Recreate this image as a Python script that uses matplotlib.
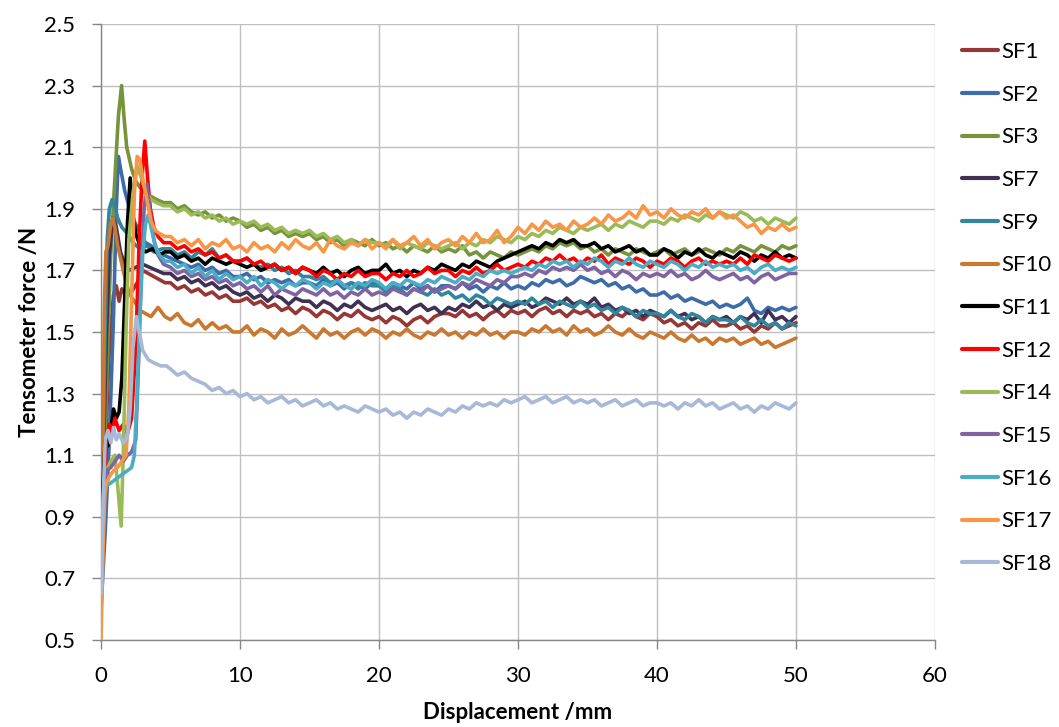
import numpy as np
import matplotlib
matplotlib.use("Agg")
import matplotlib.pyplot as plt

plt.rcParams['font.family'] = ['Lato', 'DejaVu Sans']

# ---------------- data ----------------
series_names = ["SF1", "SF2", "SF3", "SF7", "SF9", "SF10", "SF11", "SF12",
                "SF14", "SF15", "SF16", "SF17", "SF18"]
series_colors = ["#953735", "#3D6CA8", "#77933C", "#403152", "#31859C", "#C9782F",
                 "#000000", "#FF0000", "#9BBB59", "#8064A2", "#4BACC6", "#F79646",
                 "#A7B9D7"]

# common displacement grid after the initial peak (mm)
body_x = list(np.arange(5.0, 50.0001, 0.5))

# initial part (0-5 mm) of each curve
sf1_init_x = [0, 0.3, 0.6, 0.9, 1.1, 1.3, 1.5, 1.8, 2.2, 2.6, 3.0, 3.4, 3.8, 4.2, 4.6]
sf1_init_y = [0.75, 1.10, 1.45, 1.62, 1.65, 1.60, 1.64, 1.62, 1.63, 1.66, 1.70, 1.69, 1.68, 1.67, 1.66]
sf2_init_x = [0, 0.3, 0.6, 0.9, 1.1, 1.25, 1.45, 1.7, 2.0, 2.4, 2.8, 3.2, 3.6, 4.0, 4.5]
sf2_init_y = [0.60, 0.85, 1.15, 1.55, 1.90, 2.07, 2.02, 1.96, 1.91, 1.86, 1.82, 1.79, 1.78, 1.76, 1.75]
sf3_init_x = [0, 0.2, 0.45, 0.7, 1.0, 1.25, 1.48, 1.65, 1.85, 2.0, 2.2, 2.5, 2.8, 3.2, 3.6, 4.0, 4.5]
sf3_init_y = [0.70, 1.00, 1.40, 1.75, 2.00, 2.20, 2.30, 2.20, 2.10, 2.07, 2.03, 1.99, 1.97, 1.95, 1.94, 1.93, 1.92]
sf7_init_x = [0, 0.2, 0.4, 0.6, 0.85, 1.1, 1.4, 1.7, 2.0, 2.5, 3.0, 3.5, 4.0, 4.5]
sf7_init_y = [0.85, 1.15, 1.50, 1.75, 1.87, 1.84, 1.76, 1.72, 1.70, 1.71, 1.72, 1.71, 1.70, 1.69]
sf9_init_x = [0, 0.15, 0.3, 0.45, 0.6, 0.8, 1.0, 1.2, 1.5, 1.9, 2.3, 2.8, 3.3, 3.8, 4.4]
sf9_init_y = [0.80, 1.10, 1.50, 1.80, 1.90, 1.93, 1.91, 1.87, 1.84, 1.82, 1.79, 1.77, 1.78, 1.76, 1.77]
sf10_init_x = [0, 0.12, 0.25, 0.35, 0.5, 0.7, 0.85, 1.0, 1.2, 1.5, 1.8, 2.1, 2.4, 2.8, 3.2, 3.6, 4.1, 4.6]
sf10_init_y = [0.55, 1.10, 1.60, 1.76, 1.78, 1.85, 1.87, 1.84, 1.78, 1.72, 1.66, 1.62, 1.60, 1.57, 1.56, 1.55, 1.58, 1.55]
sf11_init_x = [0, 0.15, 0.3, 0.5, 0.7, 0.9, 1.1, 1.3, 1.5, 1.7, 1.9, 2.1, 2.3, 2.5, 2.8, 3.2, 3.7, 4.2, 4.6]
sf11_init_y = [0.86, 1.00, 1.15, 1.13, 1.18, 1.25, 1.22, 1.24, 1.35, 1.60, 1.85, 2.00, 1.88, 1.82, 1.78, 1.76, 1.77, 1.75, 1.76]
sf12_init_x = [0, 0.2, 0.4, 0.6, 0.8, 1.0, 1.3, 1.6, 1.9, 2.2, 2.5, 2.75, 2.95, 3.15, 3.35, 3.55, 3.8, 4.1, 4.5]
sf12_init_y = [0.60, 1.00, 1.15, 1.20, 1.17, 1.22, 1.18, 1.20, 1.17, 1.22, 1.45, 1.80, 2.00, 2.12, 2.00, 1.90, 1.84, 1.81, 1.79]
sf14_init_x = [0, 0.2, 0.4, 0.7, 1.0, 1.2, 1.45, 1.6, 1.8, 2.0, 2.3, 2.6, 2.9, 3.2, 3.6, 4.0, 4.5]
sf14_init_y = [0.75, 1.00, 1.05, 1.08, 1.10, 1.00, 0.87, 1.10, 1.50, 1.80, 1.95, 2.04, 2.00, 1.96, 1.93, 1.92, 1.91]
sf15_init_x = [0, 0.2, 0.4, 0.7, 1.0, 1.3, 1.6, 1.9, 2.2, 2.5, 2.7, 2.9, 3.1, 3.3, 3.5, 3.8, 4.1, 4.5]
sf15_init_y = [0.70, 1.00, 1.05, 1.06, 1.08, 1.10, 1.08, 1.10, 1.11, 1.15, 1.40, 1.70, 1.90, 1.98, 1.90, 1.80, 1.75, 1.72]
sf16_init_x = [0, 0.2, 0.4, 0.7, 1.0, 1.3, 1.6, 1.9, 2.2, 2.4, 2.6, 2.8, 3.0, 3.2, 3.4, 3.6, 3.9, 4.2, 4.6]
sf16_init_y = [0.75, 0.95, 1.00, 1.01, 1.02, 1.03, 1.04, 1.05, 1.06, 1.10, 1.30, 1.55, 1.75, 1.85, 1.88, 1.84, 1.78, 1.75, 1.73]
sf17_init_x = [0, 0.15, 0.3, 0.6, 0.9, 1.2, 1.5, 1.8, 2.0, 2.2, 2.4, 2.6, 2.8, 3.0, 3.3, 3.6, 3.9, 4.2, 4.6]
sf17_init_y = [0.50, 0.80, 1.00, 1.03, 1.05, 1.06, 1.08, 1.10, 1.25, 1.60, 1.95, 2.07, 2.06, 2.00, 1.93, 1.86, 1.83, 1.82, 1.81]
sf18_init_x = [0, 0.15, 0.3, 0.5, 0.7, 0.9, 1.1, 1.3, 1.6, 1.9, 2.1, 2.3, 2.55, 2.75, 3.0, 3.4, 3.8, 4.3, 4.7]
sf18_init_y = [0.65, 0.95, 1.15, 1.18, 1.14, 1.19, 1.15, 1.17, 1.14, 1.16, 1.25, 1.45, 1.55, 1.50, 1.44, 1.41, 1.40, 1.39, 1.39]

# values from 5 mm to 50 mm every 0.5 mm
sf1_body = [1.66, 1.64, 1.65, 1.63, 1.64, 1.62, 1.63, 1.61, 1.62, 1.60,
            1.60, 1.61, 1.59, 1.60, 1.58, 1.59, 1.57, 1.58, 1.56, 1.58,
            1.57, 1.55, 1.57, 1.56, 1.54, 1.56, 1.55, 1.57, 1.55, 1.54,
            1.55, 1.53, 1.55, 1.54, 1.52, 1.54, 1.55, 1.53, 1.55, 1.56,
            1.56, 1.55, 1.57, 1.55, 1.56, 1.54, 1.56, 1.57, 1.55, 1.57,
            1.56, 1.57, 1.55, 1.57, 1.58, 1.56, 1.57, 1.55, 1.57, 1.56,
            1.57, 1.55, 1.56, 1.54, 1.56, 1.55, 1.57, 1.55, 1.54, 1.56,
            1.55, 1.53, 1.54, 1.52, 1.53, 1.51, 1.53, 1.52, 1.54, 1.52,
            1.52, 1.53, 1.51, 1.52, 1.50, 1.52, 1.51, 1.53, 1.51, 1.52,
            1.53]
sf2_body = [1.74, 1.73, 1.72, 1.71, 1.72, 1.70, 1.71, 1.69, 1.70, 1.68,
            1.68, 1.69, 1.67, 1.68, 1.66, 1.67, 1.66, 1.67, 1.65, 1.66,
            1.66, 1.65, 1.67, 1.65, 1.66, 1.64, 1.66, 1.65, 1.64, 1.66,
            1.65, 1.64, 1.66, 1.65, 1.64, 1.66, 1.64, 1.65, 1.63, 1.65,
            1.65, 1.64, 1.66, 1.64, 1.65, 1.63, 1.65, 1.64, 1.66, 1.64,
            1.65, 1.64, 1.66, 1.65, 1.67, 1.66, 1.67, 1.65, 1.66, 1.68,
            1.67, 1.66, 1.67, 1.65, 1.66, 1.64, 1.65, 1.63, 1.64, 1.62,
            1.62, 1.63, 1.61, 1.62, 1.60, 1.61, 1.60, 1.59, 1.60, 1.58,
            1.59, 1.58, 1.59, 1.61, 1.57, 1.56, 1.58, 1.57, 1.58, 1.57,
            1.58]
sf3_body = [1.92, 1.90, 1.91, 1.89, 1.88, 1.89, 1.87, 1.88, 1.86, 1.87,
            1.86, 1.84, 1.85, 1.83, 1.84, 1.82, 1.83, 1.81, 1.82, 1.81,
            1.82, 1.80, 1.81, 1.79, 1.80, 1.78, 1.80, 1.79, 1.78, 1.80,
            1.78, 1.79, 1.77, 1.78, 1.76, 1.78, 1.77, 1.76, 1.78, 1.76,
            1.77, 1.76, 1.78, 1.75, 1.76, 1.74, 1.76, 1.75, 1.74, 1.76,
            1.75, 1.76, 1.77, 1.76, 1.78, 1.77, 1.79, 1.78, 1.79, 1.77,
            1.78, 1.76, 1.77, 1.75, 1.77, 1.76, 1.75, 1.77, 1.76, 1.75,
            1.76, 1.77, 1.75, 1.76, 1.77, 1.75, 1.76, 1.77, 1.76, 1.75,
            1.77, 1.76, 1.78, 1.77, 1.76, 1.78, 1.77, 1.76, 1.78, 1.77,
            1.78]
sf7_body = [1.69, 1.67, 1.68, 1.66, 1.67, 1.65, 1.66, 1.64, 1.65, 1.63,
            1.62, 1.63, 1.61, 1.62, 1.60, 1.62, 1.61, 1.59, 1.61, 1.60,
            1.60, 1.58, 1.60, 1.59, 1.57, 1.59, 1.58, 1.60, 1.58, 1.57,
            1.58, 1.59, 1.57, 1.58, 1.56, 1.58, 1.59, 1.57, 1.58, 1.56,
            1.58, 1.57, 1.59, 1.58, 1.60, 1.58, 1.59, 1.57, 1.59, 1.58,
            1.59, 1.60, 1.58, 1.59, 1.61, 1.60, 1.59, 1.61, 1.59, 1.60,
            1.59, 1.61, 1.58, 1.59, 1.57, 1.58, 1.56, 1.57, 1.55, 1.57,
            1.56, 1.55, 1.57, 1.55, 1.56, 1.54, 1.55, 1.53, 1.55, 1.54,
            1.55, 1.53, 1.55, 1.54, 1.56, 1.53, 1.57, 1.54, 1.55, 1.53,
            1.55]
sf9_body = [1.77, 1.75, 1.76, 1.74, 1.76, 1.75, 1.77, 1.74, 1.75, 1.73,
            1.73, 1.74, 1.72, 1.71, 1.72, 1.70, 1.71, 1.69, 1.70, 1.68,
            1.68, 1.67, 1.68, 1.66, 1.67, 1.65, 1.66, 1.64, 1.66, 1.65,
            1.65, 1.63, 1.65, 1.64, 1.62, 1.64, 1.63, 1.62, 1.64, 1.62,
            1.63, 1.61, 1.62, 1.60, 1.62, 1.61, 1.59, 1.61, 1.60, 1.59,
            1.60, 1.59, 1.61, 1.59, 1.60, 1.58, 1.60, 1.59, 1.58, 1.60,
            1.58, 1.59, 1.57, 1.58, 1.56, 1.58, 1.57, 1.55, 1.57, 1.56,
            1.56, 1.55, 1.57, 1.55, 1.54, 1.56, 1.55, 1.53, 1.55, 1.54,
            1.54, 1.53, 1.55, 1.53, 1.52, 1.54, 1.52, 1.53, 1.51, 1.53,
            1.52]
sf10_body = [1.54, 1.56, 1.53, 1.52, 1.54, 1.51, 1.53, 1.51, 1.52, 1.50,
             1.50, 1.52, 1.49, 1.51, 1.50, 1.48, 1.51, 1.49, 1.50, 1.52,
             1.50, 1.48, 1.51, 1.49, 1.50, 1.48, 1.50, 1.51, 1.49, 1.51,
             1.50, 1.48, 1.50, 1.49, 1.51, 1.49, 1.48, 1.50, 1.49, 1.51,
             1.49, 1.50, 1.48, 1.50, 1.49, 1.51, 1.49, 1.50, 1.48, 1.50,
             1.50, 1.49, 1.51, 1.50, 1.52, 1.50, 1.51, 1.49, 1.52, 1.50,
             1.51, 1.49, 1.50, 1.52, 1.50, 1.49, 1.51, 1.49, 1.48, 1.50,
             1.49, 1.48, 1.50, 1.48, 1.47, 1.49, 1.47, 1.48, 1.46, 1.48,
             1.47, 1.48, 1.46, 1.47, 1.48, 1.46, 1.47, 1.45, 1.46, 1.47,
             1.48]
sf11_body = [1.76, 1.74, 1.75, 1.73, 1.74, 1.72, 1.74, 1.73, 1.72, 1.73,
             1.72, 1.71, 1.72, 1.70, 1.71, 1.72, 1.70, 1.71, 1.69, 1.71,
             1.70, 1.69, 1.71, 1.69, 1.70, 1.68, 1.70, 1.71, 1.69, 1.70,
             1.70, 1.72, 1.69, 1.70, 1.68, 1.70, 1.69, 1.71, 1.70, 1.72,
             1.71, 1.70, 1.72, 1.71, 1.73, 1.72, 1.71, 1.73, 1.74, 1.75,
             1.76, 1.77, 1.78, 1.77, 1.79, 1.78, 1.80, 1.79, 1.80, 1.78,
             1.78, 1.79, 1.77, 1.78, 1.76, 1.77, 1.78, 1.76, 1.77, 1.75,
             1.75, 1.77, 1.76, 1.74, 1.76, 1.75, 1.77, 1.75, 1.74, 1.76,
             1.75, 1.74, 1.76, 1.75, 1.73, 1.75, 1.74, 1.76, 1.74, 1.75,
             1.74]
sf12_body = [1.79, 1.77, 1.78, 1.76, 1.77, 1.75, 1.76, 1.74, 1.75, 1.73,
             1.73, 1.74, 1.72, 1.73, 1.71, 1.72, 1.70, 1.71, 1.69, 1.71,
             1.70, 1.68, 1.70, 1.69, 1.67, 1.69, 1.68, 1.70, 1.68, 1.69,
             1.69, 1.67, 1.69, 1.68, 1.70, 1.68, 1.69, 1.71, 1.69, 1.70,
             1.70, 1.68, 1.70, 1.69, 1.71, 1.69, 1.70, 1.72, 1.70, 1.71,
             1.72, 1.71, 1.73, 1.72, 1.74, 1.73, 1.75, 1.73, 1.74, 1.72,
             1.74, 1.73, 1.75, 1.72, 1.74, 1.73, 1.72, 1.74, 1.73, 1.71,
             1.73, 1.72, 1.74, 1.73, 1.71, 1.73, 1.74, 1.72, 1.73, 1.72,
             1.73, 1.72, 1.74, 1.72, 1.75, 1.74, 1.73, 1.75, 1.74, 1.73,
             1.74]
sf14_body = [1.91, 1.89, 1.90, 1.88, 1.89, 1.87, 1.88, 1.86, 1.87, 1.85,
             1.86, 1.85, 1.86, 1.84, 1.85, 1.83, 1.84, 1.82, 1.83, 1.82,
             1.83, 1.81, 1.82, 1.80, 1.81, 1.79, 1.80, 1.78, 1.80, 1.79,
             1.79, 1.78, 1.80, 1.77, 1.79, 1.78, 1.77, 1.79, 1.78, 1.77,
             1.78, 1.79, 1.77, 1.79, 1.78, 1.80, 1.79, 1.81, 1.80, 1.79,
             1.81, 1.80, 1.82, 1.81, 1.83, 1.82, 1.84, 1.83, 1.82, 1.84,
             1.83, 1.84, 1.85, 1.83, 1.85, 1.84, 1.86, 1.85, 1.84, 1.86,
             1.86, 1.85, 1.87, 1.86, 1.88, 1.87, 1.86, 1.88, 1.87, 1.89,
             1.88, 1.87, 1.89, 1.88, 1.86, 1.87, 1.85, 1.87, 1.86, 1.85,
             1.87]
sf15_body = [1.71, 1.69, 1.70, 1.68, 1.69, 1.67, 1.68, 1.66, 1.67, 1.65,
             1.66, 1.64, 1.65, 1.63, 1.65, 1.62, 1.64, 1.63, 1.62, 1.64,
             1.63, 1.62, 1.64, 1.62, 1.63, 1.61, 1.63, 1.62, 1.64, 1.62,
             1.63, 1.62, 1.64, 1.63, 1.62, 1.64, 1.63, 1.65, 1.63, 1.64,
             1.65, 1.64, 1.66, 1.65, 1.67, 1.66, 1.65, 1.67, 1.66, 1.68,
             1.68, 1.69, 1.68, 1.70, 1.69, 1.71, 1.70, 1.71, 1.70, 1.72,
             1.70, 1.71, 1.69, 1.70, 1.68, 1.70, 1.69, 1.67, 1.69, 1.68,
             1.69, 1.68, 1.70, 1.68, 1.69, 1.67, 1.68, 1.70, 1.68, 1.67,
             1.68, 1.69, 1.67, 1.68, 1.66, 1.68, 1.69, 1.67, 1.68, 1.69,
             1.69]
sf16_body = [1.73, 1.71, 1.72, 1.69, 1.71, 1.68, 1.70, 1.67, 1.69, 1.67,
             1.68, 1.66, 1.68, 1.65, 1.67, 1.66, 1.64, 1.66, 1.65, 1.67,
             1.66, 1.64, 1.66, 1.65, 1.67, 1.65, 1.64, 1.66, 1.65, 1.67,
             1.66, 1.64, 1.66, 1.65, 1.67, 1.66, 1.65, 1.67, 1.66, 1.68,
             1.67, 1.66, 1.68, 1.67, 1.69, 1.68, 1.70, 1.69, 1.70, 1.69,
             1.70, 1.71, 1.70, 1.72, 1.71, 1.73, 1.72, 1.73, 1.71, 1.73,
             1.72, 1.74, 1.73, 1.71, 1.73, 1.72, 1.74, 1.72, 1.71, 1.73,
             1.72, 1.71, 1.73, 1.72, 1.70, 1.72, 1.71, 1.73, 1.71, 1.72,
             1.71, 1.72, 1.70, 1.71, 1.69, 1.71, 1.72, 1.70, 1.71, 1.70,
             1.71]
sf17_body = [1.81, 1.79, 1.80, 1.78, 1.80, 1.77, 1.79, 1.78, 1.80, 1.77,
             1.78, 1.76, 1.79, 1.77, 1.78, 1.76, 1.79, 1.77, 1.80, 1.78,
             1.77, 1.79, 1.76, 1.80, 1.78, 1.77, 1.79, 1.78, 1.80, 1.77,
             1.79, 1.77, 1.80, 1.78, 1.79, 1.81, 1.78, 1.80, 1.77, 1.79,
             1.80, 1.78, 1.81, 1.79, 1.82, 1.79, 1.80, 1.83, 1.79, 1.81,
             1.84, 1.82, 1.85, 1.83, 1.86, 1.84, 1.85, 1.83, 1.86, 1.84,
             1.85, 1.87, 1.85, 1.88, 1.86, 1.87, 1.89, 1.87, 1.91, 1.88,
             1.89, 1.87, 1.90, 1.88, 1.87, 1.89, 1.88, 1.90, 1.87, 1.89,
             1.87, 1.88, 1.86, 1.84, 1.85, 1.82, 1.84, 1.83, 1.85, 1.83,
             1.84]
sf18_body = [1.38, 1.36, 1.37, 1.35, 1.34, 1.33, 1.31, 1.32, 1.30, 1.31,
             1.29, 1.30, 1.28, 1.29, 1.27, 1.28, 1.29, 1.27, 1.28, 1.26,
             1.27, 1.28, 1.26, 1.27, 1.25, 1.26, 1.25, 1.24, 1.26, 1.25,
             1.24, 1.25, 1.23, 1.24, 1.22, 1.24, 1.23, 1.25, 1.24, 1.23,
             1.25, 1.24, 1.26, 1.25, 1.27, 1.26, 1.27, 1.26, 1.28, 1.27,
             1.28, 1.29, 1.27, 1.28, 1.29, 1.27, 1.28, 1.29, 1.27, 1.28,
             1.27, 1.28, 1.26, 1.27, 1.28, 1.26, 1.27, 1.28, 1.26, 1.27,
             1.27, 1.26, 1.27, 1.25, 1.27, 1.26, 1.28, 1.26, 1.27, 1.25,
             1.26, 1.27, 1.25, 1.26, 1.24, 1.26, 1.25, 1.27, 1.26, 1.25,
             1.27]

x_ticks = [0, 10, 20, 30, 40, 50, 60]
y_ticks = [0.5, 0.7, 0.9, 1.1, 1.3, 1.5, 1.7, 1.9, 2.1, 2.3, 2.5]
x_label = "Displacement /mm"
y_label = "Tensometer force /N"

inits = [(sf1_init_x, sf1_init_y), (sf2_init_x, sf2_init_y), (sf3_init_x, sf3_init_y),
         (sf7_init_x, sf7_init_y), (sf9_init_x, sf9_init_y), (sf10_init_x, sf10_init_y),
         (sf11_init_x, sf11_init_y), (sf12_init_x, sf12_init_y), (sf14_init_x, sf14_init_y),
         (sf15_init_x, sf15_init_y), (sf16_init_x, sf16_init_y), (sf17_init_x, sf17_init_y),
         (sf18_init_x, sf18_init_y)]
bodies = [sf1_body, sf2_body, sf3_body, sf7_body, sf9_body, sf10_body, sf11_body,
          sf12_body, sf14_body, sf15_body, sf16_body, sf17_body, sf18_body]

# ---------------- figure ----------------
W, H = 1059, 727
fig = plt.figure(figsize=(W / 100, H / 100), dpi=100)
ax = fig.add_axes([101 / W, 1 - 640 / H, (935 - 101) / W, (640 - 24) / H])

grid_c = "#BFBFBF"
axis_c = "#868686"

for name, col, (ix, iy), body in zip(series_names, series_colors, inits, bodies):
    xs = list(ix) + body_x
    ys = list(iy) + body
    ax.plot(xs, ys, color=col, lw=2.6, label=name, solid_joinstyle="round",
            solid_capstyle="round", zorder=3)

ax.set_xlim(0, 60)
ax.set_ylim(0.5, 2.5)
ax.set_xticks(x_ticks)
ax.set_yticks(y_ticks)
ax.set_xticklabels([str(v) for v in x_ticks])
ax.set_yticklabels([f"{v:.1f}" for v in y_ticks])
ax.grid(True, color=grid_c, lw=1.0, zorder=0)
ax.set_axisbelow(True)

for s in ["top", "right"]:
    ax.spines[s].set_visible(False)
for s in ["left", "bottom"]:
    ax.spines[s].set_color(axis_c)
    ax.spines[s].set_linewidth(1.0)

ax.tick_params(axis="both", direction="out", length=6.5, width=1.0, color=axis_c,
               labelsize=16, labelcolor="#000000")
ax.tick_params(axis="x", pad=12)
ax.tick_params(axis="y", pad=12)

ax.set_xlabel(x_label, fontsize=16, fontweight="bold", labelpad=12)
ax.set_ylabel(y_label, fontsize=16, fontweight="bold", labelpad=3)

leg = fig.legend(loc="upper left", bbox_to_anchor=(962 / W, 1 - 42 / H),
                 frameon=False, fontsize=16, handlelength=1.62, handletextpad=0.14,
                 labelspacing=1.02, borderpad=0, borderaxespad=0)
for line in leg.get_lines():
    line.set_linewidth(3.0)

fig.savefig("out.png", dpi=100)
